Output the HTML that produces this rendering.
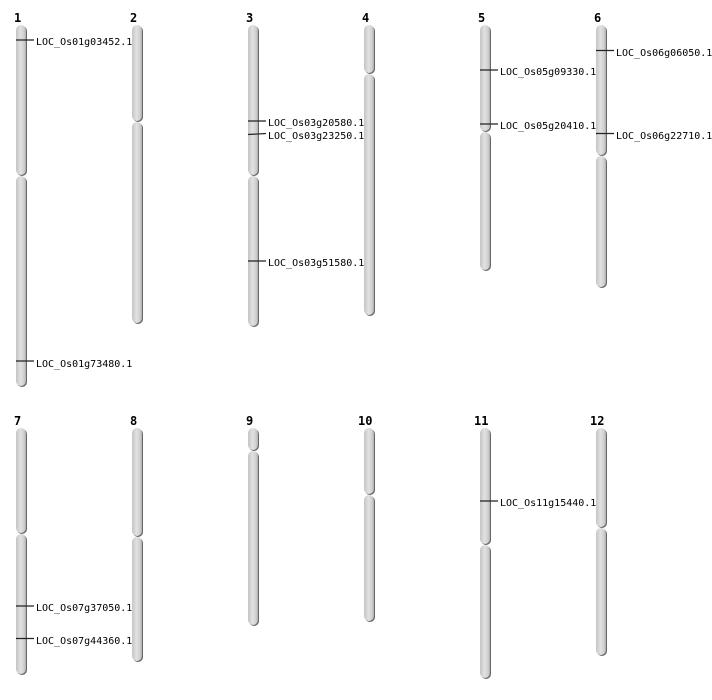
<!DOCTYPE html>
<html><head><meta charset="utf-8"><style>
html,body{margin:0;padding:0;background:#fff;width:712px;height:700px;overflow:hidden}
svg text{font-family:"DejaVu Sans Mono","Liberation Mono",monospace;font-size:10px;fill:#000}
svg text.n{font-family:"DejaVu Sans Mono","Liberation Mono",monospace;font-weight:bold;font-size:12px}
</style></head><body>
<svg width="712" height="700" xmlns="http://www.w3.org/2000/svg">
<defs>
<linearGradient id="g" x1="0" x2="1" y1="0" y2="0">
<stop offset="0" stop-color="#c4c4c4"/><stop offset="0.45" stop-color="#e2e2e2"/><stop offset="0.8" stop-color="#cfcfcf"/><stop offset="1" stop-color="#b0b0b0"/>
</linearGradient>
</defs>
<text class="n" x="14" y="22">1</text><text class="n" x="130" y="22">2</text><text class="n" x="246" y="22">3</text><text class="n" x="362" y="22">4</text><text class="n" x="478" y="22">5</text><text class="n" x="594" y="22">6</text>
<text class="n" x="14" y="425">7</text><text class="n" x="130" y="425">8</text><text class="n" x="246" y="425">9</text><text class="n" x="358" y="425">10</text><text class="n" x="474" y="425">11</text><text class="n" x="590" y="425">12</text>

<g fill="#666">
<rect x="17" y="26" width="10" height="150" rx="5"/><rect x="17" y="177" width="10" height="210" rx="5"/>
<rect x="133" y="26" width="10" height="96" rx="5"/><rect x="133" y="123" width="10" height="201" rx="5"/>
<rect x="249" y="26" width="10" height="150" rx="5"/><rect x="249" y="177" width="10" height="150" rx="5"/>
<rect x="365" y="26" width="10" height="48" rx="5"/><rect x="365" y="75" width="10" height="241" rx="5"/>
<rect x="481" y="26" width="10" height="106" rx="5"/><rect x="481" y="133" width="10" height="138" rx="5"/>
<rect x="597" y="26" width="10" height="130" rx="5"/><rect x="597" y="157" width="10" height="131" rx="5"/>
<rect x="17" y="429" width="10" height="105" rx="5"/><rect x="17" y="535" width="10" height="140" rx="5"/>
<rect x="133" y="429" width="10" height="108" rx="5"/><rect x="133" y="538" width="10" height="124" rx="5"/>
<rect x="249" y="429" width="10" height="22" rx="5"/><rect x="249" y="452" width="10" height="174" rx="5"/>
<rect x="365" y="429" width="10" height="66" rx="5"/><rect x="365" y="496" width="10" height="126" rx="5"/>
<rect x="481" y="429" width="10" height="116" rx="5"/><rect x="481" y="546" width="10" height="133" rx="5"/>
<rect x="597" y="429" width="10" height="99" rx="5"/><rect x="597" y="529" width="10" height="127" rx="5"/>
</g>
<g fill="url(#g)">
<rect x="16" y="25" width="10" height="150" rx="5"/><rect x="16" y="176" width="10" height="210" rx="5"/>
<rect x="132" y="25" width="10" height="96" rx="5"/><rect x="132" y="122" width="10" height="201" rx="5"/>
<rect x="248" y="25" width="10" height="150" rx="5"/><rect x="248" y="176" width="10" height="150" rx="5"/>
<rect x="364" y="25" width="10" height="48" rx="5"/><rect x="364" y="74" width="10" height="241" rx="5"/>
<rect x="480" y="25" width="10" height="106" rx="5"/><rect x="480" y="132" width="10" height="138" rx="5"/>
<rect x="596" y="25" width="10" height="130" rx="5"/><rect x="596" y="156" width="10" height="131" rx="5"/>
<rect x="16" y="428" width="10" height="105" rx="5"/><rect x="16" y="534" width="10" height="140" rx="5"/>
<rect x="132" y="428" width="10" height="108" rx="5"/><rect x="132" y="537" width="10" height="124" rx="5"/>
<rect x="248" y="428" width="10" height="22" rx="5"/><rect x="248" y="451" width="10" height="174" rx="5"/>
<rect x="364" y="428" width="10" height="66" rx="5"/><rect x="364" y="495" width="10" height="126" rx="5"/>
<rect x="480" y="428" width="10" height="116" rx="5"/><rect x="480" y="545" width="10" height="133" rx="5"/>
<rect x="596" y="428" width="10" height="99" rx="5"/><rect x="596" y="528" width="10" height="127" rx="5"/>
</g>

<g stroke="#222" stroke-width="1.2" fill="none">
<path d="M16 40H34"/><path d="M16 361H34"/>
<path d="M248 121H266"/><path d="M248 134.5L266 133.5"/><path d="M248 261H266"/>
<path d="M480 70H498"/><path d="M480 124H498"/>
<path d="M596 50.5H614"/><path d="M596 133.5H614"/>
<path d="M16 606H34"/><path d="M16 638.5H34"/>
<path d="M480 501H498"/>
</g>
<text x="36" y="45">LOC_Os01g03452.1</text>
<text x="36" y="367">LOC_Os01g73480.1</text>
<text x="268" y="126">LOC_Os03g20580.1</text>
<text x="268" y="139">LOC_Os03g23250.1</text>
<text x="268" y="266">LOC_Os03g51580.1</text>
<text x="500" y="75">LOC_Os05g09330.1</text>
<text x="500" y="129">LOC_Os05g20410.1</text>
<text x="616" y="56">LOC_Os06g06050.1</text>
<text x="616" y="139">LOC_Os06g22710.1</text>
<text x="36" y="611">LOC_Os07g37050.1</text>
<text x="36" y="644">LOC_Os07g44360.1</text>
<text x="500" y="506">LOC_Os11g15440.1</text>
</svg>
</body></html>
